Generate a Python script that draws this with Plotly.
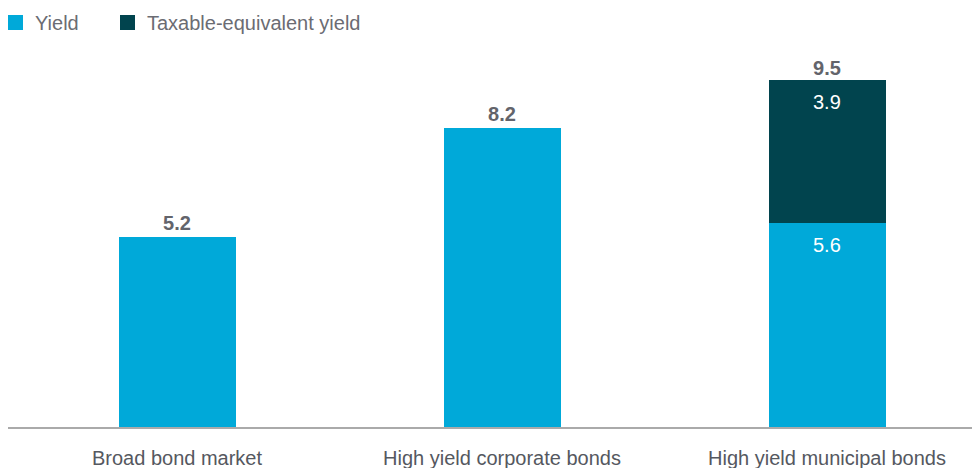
import plotly.graph_objects as go

categories = ["Broad bond market", "High yield corporate bonds", "High yield municipal bonds"]
yield_vals = [5.2, 8.2, 5.6]
tey_vals = [None, None, 3.9]
series_names = ["Yield", "Taxable-equivalent yield"]

CYAN = "#00A9D9"
TEAL = "#01444E"
GRAY = "#63646B"
FONT = "Liberation Sans, Arial, sans-serif"

W, H = 980, 468
T, B = 50, 49
PH = H - T - B

totals = [y + (t or 0) for y, t in zip(yield_vals, tey_vals)]
stacked = [t is not None for t in tey_vals]

fig = go.Figure()
fig.add_trace(go.Bar(
    x=categories, y=yield_vals, name=series_names[0],
    marker=dict(color=CYAN, line=dict(width=0)),
    width=0.36,
    text=[f"{v:.1f}" if not s else "" for v, s in zip(yield_vals, stacked)],
    textposition="outside",
    outsidetextfont=dict(color=GRAY, size=20, family=FONT, weight="bold"),
    textangle=0, cliponaxis=False, showlegend=False,
))
fig.add_trace(go.Bar(
    x=categories, y=tey_vals, name=series_names[1],
    marker=dict(color=TEAL, line=dict(width=0)),
    width=0.36, showlegend=False,
))
fig.add_trace(go.Scatter(
    x=[c for c, s in zip(categories, stacked) if s],
    y=[t for t, s in zip(totals, stacked) if s],
    mode="text",
    text=[f"{t:.1f}" for t, s in zip(totals, stacked) if s],
    textposition="top center",
    textfont=dict(color=GRAY, size=20, family=FONT, weight="bold"),
    showlegend=False, hoverinfo="skip", cliponaxis=False,
))

# inside labels for the stacked bar segments
annotations = []
for c, y, t, s in zip(categories, yield_vals, tey_vals, stacked):
    if s:
        for val, top in [(y, y), (t, y + t)]:
            annotations.append(dict(
                x=c, y=top, xref="x", yref="y", text=f"{val:.1f}", showarrow=False,
                yanchor="top", yshift=-9,
                font=dict(color="white", size=20, family=FONT)))

# custom legend
shapes = []
legend_items = [(series_names[0], CYAN, 0), (series_names[1], TEAL, 112)]
for name, col, x0 in legend_items:
    shapes.append(dict(type="rect", xref="paper", yref="paper",
                       x0=x0 / W, x1=(x0 + 15) / W,
                       y0=(H - B - 22) / PH, y1=(H - B - 7) / PH,
                       fillcolor=col, line=dict(width=0)))
    annotations.append(dict(x=(x0 + 25) / W, y=(H - B - 14.5) / PH, xref="paper", yref="paper",
                            text=name, showarrow=False, xanchor="left", yanchor="middle",
                            font=dict(size=20, color="#6B6C73", family=FONT)))

fig.update_layout(
    barmode="stack",
    width=W, height=H,
    margin=dict(l=0, r=0, t=T, b=B),
    paper_bgcolor="white", plot_bgcolor="white",
    font=dict(family=FONT, color=GRAY, size=18),
    showlegend=False,
    annotations=annotations, shapes=shapes,
    xaxis=dict(range=[-0.52, -0.52 + W / 325], showline=True, linecolor="#AAAAAA", linewidth=2,
               showgrid=False, zeroline=False, ticks="", ticklabelstandoff=12, automargin=False,
               tickfont=dict(family=FONT, size=20, color="#555860")),
    yaxis=dict(range=[0, PH / 36.5], visible=False, showgrid=False, zeroline=False, automargin=False),
)

fig.write_html("out.html")
